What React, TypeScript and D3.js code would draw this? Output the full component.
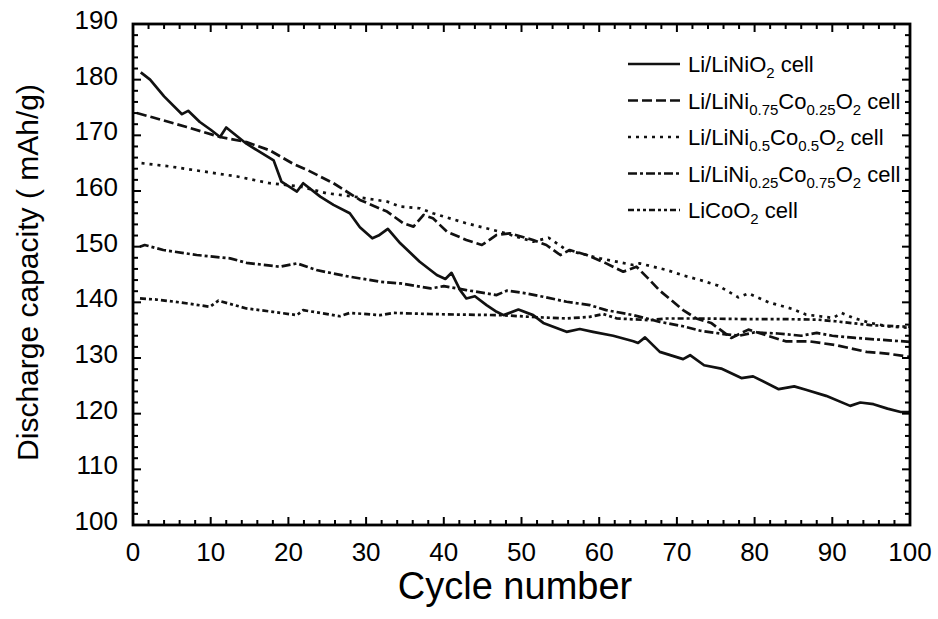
import React, { useEffect } from 'react';
import * as d3 from 'd3';

// ---- Data ----
const cycNi = [1, 2.2, 4, 6.3, 7.1, 8.6, 10, 11.2, 12, 14.6, 16, 18.1, 19.1, 21.1, 21.9, 24.1, 25.8, 27.9, 29.2, 30.8, 31.6, 32.8, 34.4, 36.9, 39.1, 40.2, 41, 42.1, 42.9, 44, 45.5, 46.8, 47.7, 49.6, 51.5, 52.8, 55.8, 57.5, 59.2, 61.8, 64.4, 65, 65.9, 67.8, 70.8, 71.7, 73.5, 75.7, 78.3, 79.8, 83.1, 85.1, 86.6, 89.2, 92.3, 93.6, 95.3, 97.1, 98.8, 100];
const capNi = [181.3, 180, 177, 173.8, 174.4, 172.4, 171, 169.7, 171.4, 168.5, 167.3, 165.5, 161.7, 159.9, 161.4, 159, 157.5, 156, 153.5, 151.5, 152, 153.2, 150.6, 147.3, 144.9, 144.2, 145.3, 142.2, 140.7, 141.1, 139.5, 138.3, 137.7, 138.7, 137.7, 136.3, 134.7, 135.2, 134.7, 134, 133, 132.7, 133.7, 131.1, 129.8, 130.5, 128.7, 128.1, 126.4, 126.7, 124.4, 124.9, 124.3, 123.2, 121.4, 122, 121.7, 120.9, 120.3, 120.3];

const cycNi75 = [0.5, 2.6, 6.9, 11.2, 14.6, 17.6, 20.6, 22.4, 25.8, 29.2, 32.7, 34.8, 36.1, 37.4, 38.6, 40.4, 42.9, 44.9, 46.8, 48.5, 51.5, 53.2, 55, 56.2, 58.4, 60.9, 63.1, 64.8, 66.3, 67.8, 69.1, 70.8, 72.5, 74.4, 77, 79.2, 81, 84, 87, 90.5, 94.4, 97, 100];
const capNi75 = [174, 173.2, 171.5, 169.7, 168.8, 167.3, 164.9, 163.8, 161.4, 158.4, 156.3, 154.2, 153.6, 155.7, 155.1, 152.7, 151.2, 150.3, 152.1, 152.4, 151.2, 150.3, 148.5, 149.4, 148.5, 147, 145.5, 146.4, 144.3, 142.1, 140.6, 138.6, 137.1, 136.3, 133.6, 135.1, 134.3, 133, 133, 132.3, 131.1, 130.8, 130.2];

const cycNi50 = [1.1, 4.8, 9.1, 13.4, 17.6, 21.5, 24.9, 28.4, 32.7, 34.4, 36.9, 38.6, 42.9, 47.2, 51.5, 53.5, 55.8, 60.1, 64.4, 65.2, 68.7, 70.9, 73, 75.3, 77.9, 79.2, 81.8, 84.9, 86.6, 88.4, 90.1, 91.2, 92.7, 94.9, 97.1, 100];
const capNi50 = [165, 164.4, 163.5, 162.6, 161.4, 160.8, 159.6, 159, 158.1, 157.2, 156.9, 156, 154.2, 152.7, 150.9, 151.6, 149.4, 147.9, 146.7, 147, 145.8, 144.8, 144, 143, 140.9, 141.6, 140, 138.8, 137.8, 137.5, 137.2, 138.1, 137.2, 136.3, 135.7, 135.4];

const cycNi25 = [0.9, 1.5, 3.9, 8.2, 12.5, 14.6, 18.9, 21.1, 23.6, 27.5, 31.8, 34.4, 38.3, 40, 42.9, 46.8, 48.1, 50.2, 52.8, 55.8, 58.8, 60.9, 64.4, 67.8, 70.8, 73, 76, 78, 80, 83, 86, 88, 90, 93, 96, 100];
const capNi25 = [150, 150.3, 149.4, 148.5, 147.9, 147.1, 146.4, 147, 145.8, 144.7, 143.7, 143.4, 142.5, 142.9, 142.2, 141.3, 142.1, 141.7, 141, 140.1, 139.5, 138.6, 137.7, 136.5, 135.7, 134.9, 134.3, 134, 134.6, 134.4, 134, 134.5, 134, 133.6, 133.3, 132.9];

const cycCo = [0.9, 3, 6, 9.9, 11, 14.6, 18, 21.1, 21.9, 26.6, 27.9, 31.8, 33.5, 38.2, 42, 47.3, 52.4, 55.8, 58.8, 60.5, 62.3, 66.5, 68.7, 73, 78, 83, 88, 90.4, 94.9, 100];
const capCo = [140.7, 140.5, 140, 139.2, 140.3, 138.9, 138.3, 137.7, 138.6, 137.5, 138.1, 137.7, 138.1, 137.9, 137.8, 137.7, 137.3, 137.1, 137.4, 137.9, 137.1, 136.8, 137.1, 137.1, 137.0, 137.0, 136.9, 136.6, 135.9, 135.6];

const xTickLabels = [0, 10, 20, 30, 40, 50, 60, 70, 80, 90, 100];
const yTickLabels = [100, 110, 120, 130, 140, 150, 160, 170, 180, 190];

// legend label pieces: [text, isSubscript]
const legendLabels: [string, boolean][][] = [
  [['Li/LiNiO', false], ['2', true], [' cell', false]],
  [['Li/LiNi', false], ['0.75', true], ['Co', false], ['0.25', true], ['O', false], ['2', true], [' cell', false]],
  [['Li/LiNi', false], ['0.5', true], ['Co', false], ['0.5', true], ['O', false], ['2', true], [' cell', false]],
  [['Li/LiNi', false], ['0.25', true], ['Co', false], ['0.75', true], ['O', false], ['2', true], [' cell', false]],
  [['LiCoO', false], ['2', true], [' cell', false]],
];

const seriesX = [cycNi, cycNi75, cycNi50, cycNi25, cycCo];
const seriesY = [capNi, capNi75, capNi50, capNi25, capCo];
const dashes = ['none', '10,4', '3,5', '9,3,3,3', '6,3,3,3,3,3'];

const W = 938;
const H = 619;
const FONT = 'Liberation Sans, Arial, Helvetica, sans-serif';

export default function App() {
  useEffect(() => {
    document.body.style.margin = '0';
  }, []);

  const x = d3.scaleLinear().domain([0, 100]).range([133, 910]);
  const y = d3.scaleLinear().domain([100, 190]).range([525, 24]);
  const [x0, x1] = x.range();
  const [y0, y1] = y.range();

  const line = d3
    .line<[number, number]>()
    .x((d) => x(d[0]))
    .y((d) => y(d[1]));

  const xMinor = d3.range(0, 101, 2);
  const yMinor = d3.range(100, 191, 2);
  const isMajor = (v: number) => v % 10 === 0;
  const MAJ = 8;
  const MIN = 5;

  const legendX0 = 628;
  const legendX1 = 680;
  const legendTextX = 688;
  const legendY0 = 64;
  const legendDy = 36.5;

  return (
    <svg width={W} height={H} style={{ position: 'absolute', left: 0, top: 0, background: '#fff' }} fontFamily={FONT}>
      <rect x={0} y={0} width={W} height={H} fill="#fff" />
      {seriesX.map((xs, i) => {
        const pts: [number, number][] = xs.map((c, j) => [c, seriesY[i][j]]);
        return (
          <path
            key={i}
            d={line(pts) || ''}
            fill="none"
            stroke="#111"
            strokeWidth={2.7}
            strokeDasharray={dashes[i]}
            strokeLinejoin="round"
          />
        );
      })}

      <g stroke="#000" strokeWidth={2}>
        {xMinor.map((v) => {
          const len = isMajor(v) ? MAJ : MIN;
          return (
            <g key={'xt' + v}>
              <line x1={x(v)} x2={x(v)} y1={y0} y2={y0 - len} />
              <line x1={x(v)} x2={x(v)} y1={y1} y2={y1 + len} />
            </g>
          );
        })}
        {yMinor.map((v) => {
          const len = isMajor(v) ? MAJ : MIN;
          return (
            <g key={'yt' + v}>
              <line x1={x0} x2={x0 + len} y1={y(v)} y2={y(v)} />
              <line x1={x1} x2={x1 - len} y1={y(v)} y2={y(v)} />
            </g>
          );
        })}
      </g>

      <rect x={x0} y={y1} width={x1 - x0} height={y0 - y1} fill="none" stroke="#000" strokeWidth={2.8} />

      {xTickLabels.map((v) => (
        <text key={'xl' + v} x={x(v)} y={y0 + 36} textAnchor="middle" fontSize={26} fill="#000">
          {v}
        </text>
      ))}
      {yTickLabels.map((v) => (
        <text key={'yl' + v} x={118} y={y(v) + 5} textAnchor="end" fontSize={26} fill="#000">
          {v}
        </text>
      ))}

      <text x={515} y={599} textAnchor="middle" fontSize={38} fill="#000">
        Cycle number
      </text>
      <text
        transform={`translate(38, ${(y0 + y1) / 2 - 2}) rotate(-90)`}
        textAnchor="middle"
        fontSize={30}
        fill="#000"
      >
        Discharge capacity ( mAh/g)
      </text>

      {legendLabels.map((parts, i) => {
        const ly = legendY0 + i * legendDy;
        let shifted = false;
        return (
          <g key={'lg' + i}>
            <line x1={legendX0} x2={legendX1} y1={ly} y2={ly} stroke="#111" strokeWidth={2.7} strokeDasharray={dashes[i]} />
            <text x={legendTextX} y={ly + 8} fontSize={22} fill="#000">
              {parts.map(([t, sub], k) => {
                let dy = 0;
                if (sub && !shifted) {
                  dy = 6;
                  shifted = true;
                } else if (!sub && shifted) {
                  dy = -6;
                  shifted = false;
                }
                return (
                  <tspan key={k} dy={dy} fontSize={sub ? 15 : 22}>
                    {t}
                  </tspan>
                );
              })}
            </text>
          </g>
        );
      })}
    </svg>
  );
}
